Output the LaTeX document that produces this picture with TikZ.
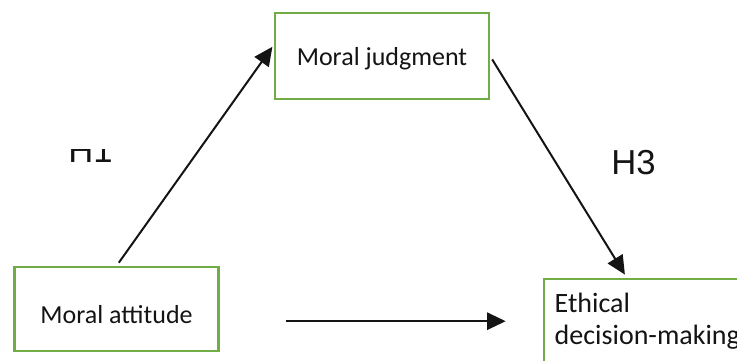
\documentclass[tikz,border=0pt]{standalone}
\usepackage{fontspec}
\setmainfont{Carlito}
\newfontfamily\hfont{Liberation Sans}
\usetikzlibrary{arrows.meta,positioning,calc}
\definecolor{frame}{RGB}{112,173,71}
\definecolor{ink}{RGB}{20,20,20}
\tikzset{
  >={Triangle[length=14pt,width=13pt]},
  box/.style={draw=frame,line width=1.6pt,fill=white,text=ink,
    font=\fontsize{19.5}{24}\selectfont,inner sep=0pt},
  flow/.style={->,line width=1.5pt,draw=ink},
  hyp/.style={font=\hfont\fontsize{26}{30}\selectfont,text=ink,inner sep=0pt},
}
\begin{document}
\begin{tikzpicture}[x=0.75pt,y=-0.75pt]
  \useasboundingbox (0,0) rectangle (737,360);
  \clip (0,0) rectangle (737,360);
  % boxes
  \node[box,minimum width=160.5pt,minimum height=64.5pt,text height=14pt,text depth=0pt]
    (judg) at (382,56) {Moral judgment};
  \node[box,minimum width=153pt,minimum height=63pt,text height=22pt,text depth=0pt]
    (att) at (116.5,309) {Moral attitude};
  \node[box,anchor=north west,inner xsep=8pt,inner ysep=10.5pt,text width=200pt,
    align=left,font=\fontsize{21}{24}\selectfont]
    (ethic) at (543,278) {Ethical\\decision-making};
  % hypotheses
  \begin{scope}
    \clip (40,149) rectangle (140,180);
    \node[hyp,anchor=base west] (h1) at (68,162) {H1};
  \end{scope}
  \node[hyp,anchor=base west] (h3) at (611,174) {H3};
  % arrows
  \draw[flow,shorten <=3pt,shorten >=2pt] (att.north) -- (judg.174);
  \draw[flow,shorten <=3pt,shorten >=3pt] (judg.east) -- ($(ethic.north west)+(84,0)$);
  \draw[flow,shorten <=50pt,shorten >=28pt] (att.east |- ethic.west) -- (ethic.west);
\end{tikzpicture}
\end{document}
